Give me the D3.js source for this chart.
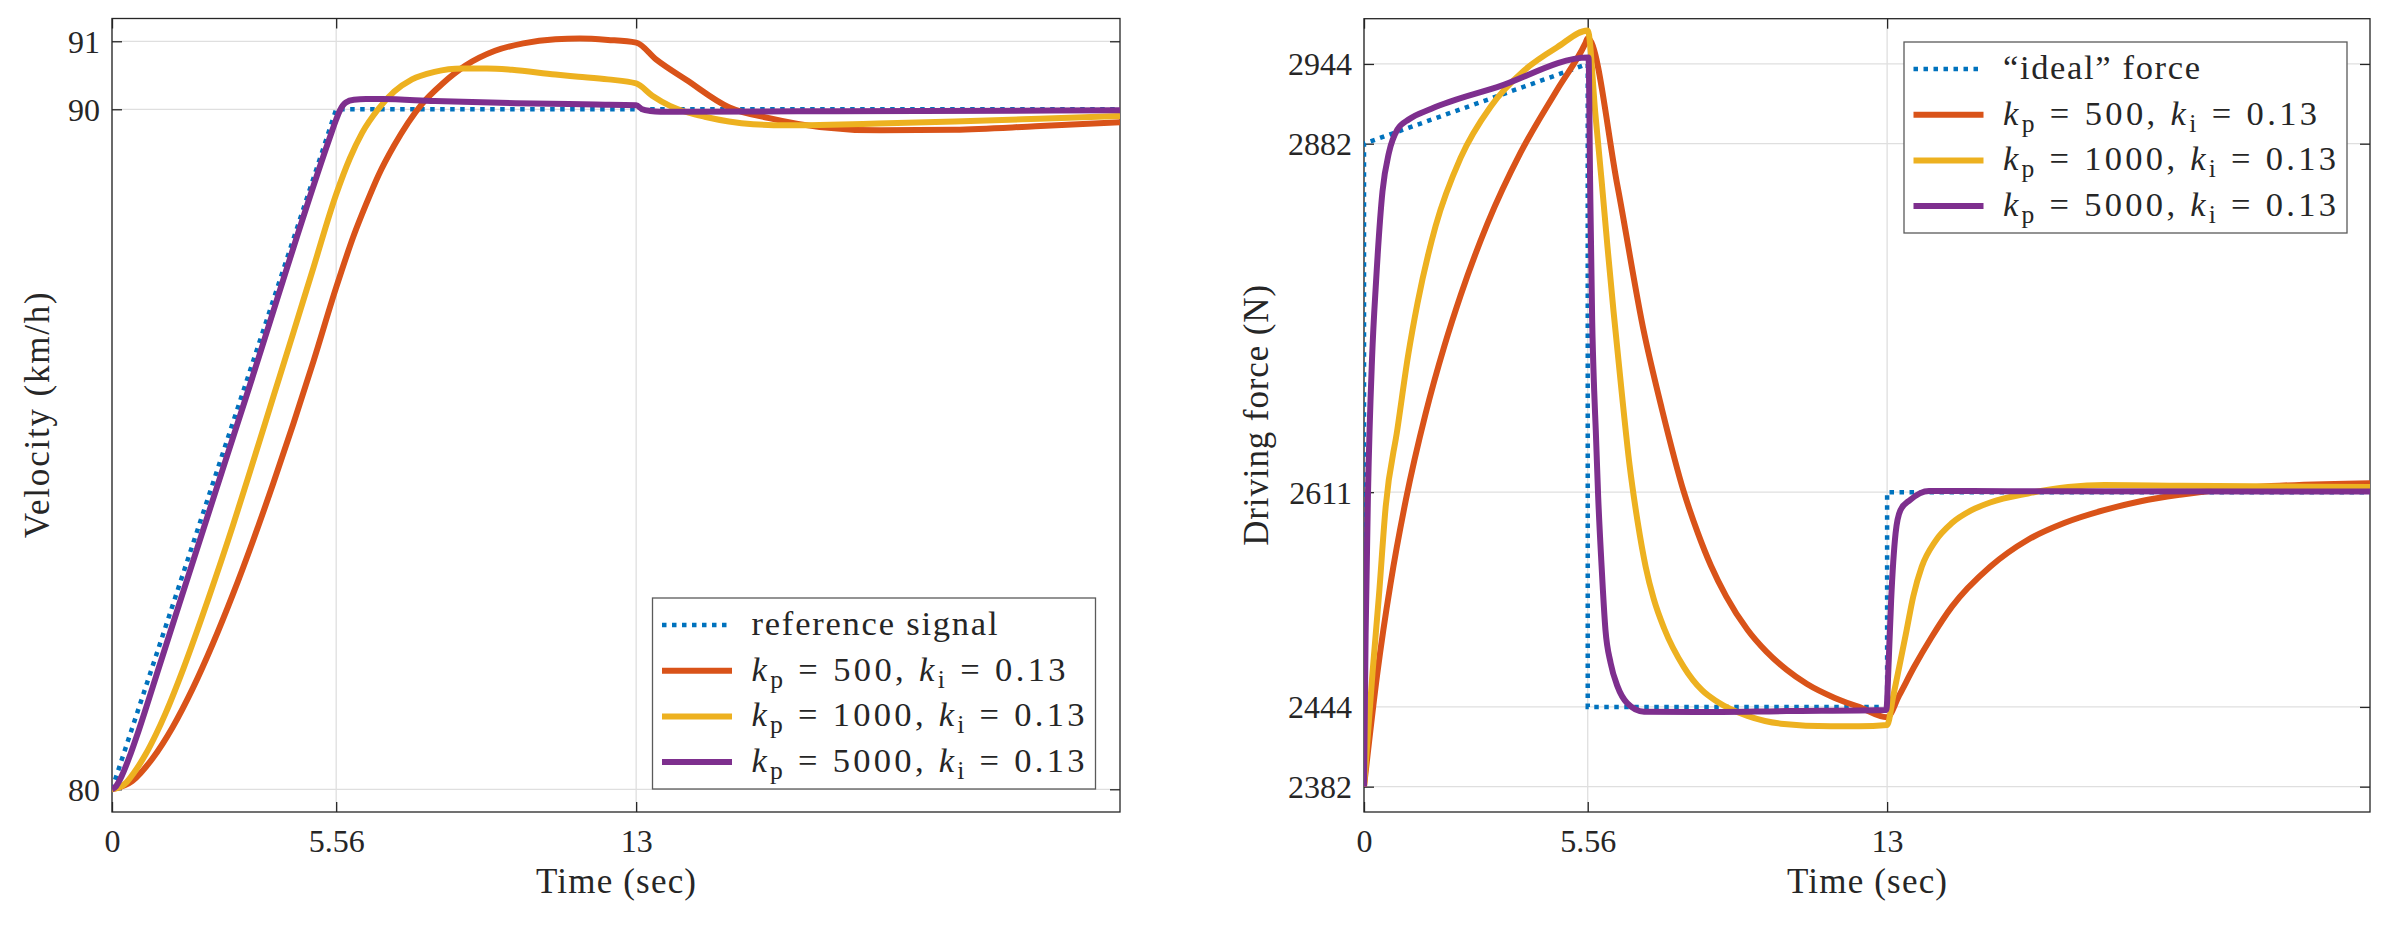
<!DOCTYPE html>
<html><head><meta charset="utf-8">
<script src="https://cdn.jsdelivr.net/npm/d3@7"></script>
<style>
html,body{margin:0;padding:0;background:#fff;}
svg{display:block;font-family:"Liberation Serif","DejaVu Serif",serif;}
svg text{font-family:"Liberation Serif","DejaVu Serif",serif !important;fill:#262626;}
</style>
</head><body>
<svg id="c" width="2396" height="928"></svg>
<script>
// ---------- tick values & labels ----------
const timeTicks = [0, 5.56, 13];
const velTicks = [80, 90, 91];
const forceTicks = [2382, 2444, 2611, 2882, 2944];
const timeLimits = [0, 25];
const velLimits = [79.666, 91.335];
const forceLimits = [2362.3, 2979.2];

// ---------- legend / series meta ----------
const kpValues = [500, 1000, 5000];
const kiValue = 0.13;
const velRefName = "reference signal";
const forceRefName = "\u201Cideal\u201D force";
const xLabel = "Time (sec)";
const velLabel = "Velocity (km/h)";
const forceLabel = "Driving force (N)";

// ---------- velocity (km/h) ----------
const velRefT = [0, 5.56, 25];
const velRefV = [80, 90, 90];

const vel500T = [0, 0.5, 1, 1.5, 2, 2.5, 3, 3.5, 4, 4.5, 5, 5.56, 6.0, 6.3, 6.61, 7.0, 7.69, 8.2, 8.76, 9.5, 10.2, 11.0, 11.6, 12.3, 13.0, 13.5, 14.25, 15.3, 16.3, 17.55, 19.05, 20.9, 22.9, 25];
const vel500V = [80, 80.12, 80.45, 80.91, 81.48, 82.14, 82.87, 83.66, 84.5, 85.38, 86.3, 87.38, 88.15, 88.6, 89.03, 89.47, 90.08, 90.38, 90.64, 90.86, 90.97, 91.03, 91.04, 91.02, 90.98, 90.73, 90.43, 90.03, 89.87, 89.74, 89.69, 89.70, 89.75, 89.81];

const vel1000T = [0, 0.21, 0.37, 0.54, 0.83, 1.1, 1.33, 1.78, 2.4, 3.0, 3.5, 4.0, 4.5, 5.0, 5.56, 5.9, 6.2, 6.6, 7.0, 7.44, 8.0, 8.68, 9.3, 9.92, 11.0, 11.57, 12.3, 13.0, 13.4, 13.84, 14.3, 14.7, 15.3, 15.9, 16.7, 17.55, 19, 20.9, 23, 25];
const vel1000V = [80, 80.035, 80.11, 80.24, 80.51, 80.82, 81.12, 81.79, 82.82, 83.88, 84.82, 85.77, 86.72, 87.68, 88.75, 89.28, 89.65, 90.0, 90.26, 90.44, 90.55, 90.6, 90.6, 90.58, 90.51, 90.48, 90.44, 90.38, 90.2, 90.05, 89.95, 89.89, 89.82, 89.78, 89.765, 89.77, 89.79, 89.82, 89.86, 89.9];

const vel5000T = [0, 0.1, 0.2, 0.46, 0.62, 0.83, 1.12, 1.66, 3.31, 5.4, 5.56, 5.65, 5.8, 6.0, 6.3, 6.7, 8, 10, 12, 13, 13.15, 13.35, 13.6, 14, 17, 20, 25];
const vel5000V = [80, 80.045, 80.145, 80.52, 80.79, 81.17, 81.71, 82.71, 85.74, 89.58, 89.85, 89.98, 90.1, 90.14, 90.15, 90.15, 90.12, 90.09, 90.07, 90.06, 90.0, 89.975, 89.965, 89.965, 89.97, 89.975, 89.985];

// ---------- driving force (N) ----------
const forceRefT = [0, 0, 5.56, 5.56, 13, 13, 25];
const forceRefF = [2382, 2882, 2944, 2444, 2444, 2611, 2611];

const force500T = [0, 0.33, 0.66, 1.04, 1.53, 2.0, 2.4, 3.07, 3.89, 4.8, 5.5, 5.56, 6.3, 6.96, 7.4, 7.95, 8.3, 8.62, 9.0, 9.53, 10.0, 10.5, 11.0, 11.7, 12.3, 13.0, 13.3, 13.67, 14.1, 14.61, 15.56, 16.5, 17.4, 18.39, 19.3, 20.28, 22.17, 25];
const force500F = [2382, 2470, 2540, 2605, 2672, 2725, 2764, 2820, 2875, 2924, 2960, 2964, 2849, 2735, 2676, 2611, 2579, 2554, 2530, 2504, 2487, 2473, 2462, 2451, 2444, 2436, 2453, 2475, 2498, 2522, 2553, 2574, 2587, 2597, 2604, 2609, 2615, 2618];

const force1000T = [0, 0.21, 0.37, 0.54, 0.83, 1.1, 1.33, 1.78, 2.4, 3.15, 3.98, 4.8, 5.56, 5.75, 5.9, 6.05, 6.2, 6.4, 6.6, 6.8, 7.0, 7.2, 7.46, 7.95, 8.4, 8.78, 9.53, 10.36, 11.6, 12.3, 13.0, 13.15, 13.3, 13.48, 13.65, 13.86, 14.2, 14.61, 15.1, 15.56, 16.5, 17.5, 18.4, 20.3, 25];
const force1000F = [2382, 2470, 2530, 2600, 2660, 2718, 2758, 2818, 2871, 2911, 2939, 2957, 2970, 2905, 2855, 2802, 2752, 2690, 2632, 2588, 2553, 2528, 2505, 2475, 2457, 2448, 2437, 2431, 2429, 2429, 2430, 2452, 2475, 2503, 2530, 2553, 2573, 2587, 2597, 2603, 2610, 2615, 2616.6, 2616, 2615];

const force5000T = [0, 0.04, 0.1, 0.2, 0.3, 0.46, 0.62, 0.83, 1.12, 1.66, 3.31, 5.58, 5.62, 5.67, 5.72, 5.76, 5.82, 5.9, 6.0, 6.13, 6.3, 6.54, 6.96, 8.28, 10.5, 12.98, 13.04, 13.1, 13.21, 13.33, 13.57, 14.04, 16, 25];
const force5000F = [2382, 2500, 2611, 2715, 2775, 2845, 2875, 2893, 2901, 2909, 2926, 2949, 2850, 2745, 2690, 2659, 2607, 2556, 2504, 2478, 2460, 2447, 2440.3, 2440, 2440.8, 2441.6, 2480, 2527, 2579, 2597, 2605, 2612, 2611.8, 2611.5];

// ---------- styling ----------
const COL = {ref: "#0072BD", k500: "#D95319", k1000: "#EDB120", k5000: "#7E2F8E"};
const AXC = "#262626";
const GRID = "#dfdfdf";
const FONT = '"Liberation Serif","DejaVu Serif",serif';
const TICK_FS = 32, LABEL_FS = 35, LEG_FS = 34.5;

const svg = d3.select("#c");

function fmtTick(d) {
  return d === 5.56 ? "5.56" : String(d);
}

function panel(o) {
  const x = d3.scaleLinear().domain(timeLimits).range([o.x0, o.x1]);
  const y = d3.scaleLinear().domain(o.yDomain).range([o.y1, o.y0]);
  const g = svg.append("g");

  // grid
  g.append("g").selectAll("line").data(timeTicks).join("line")
    .attr("x1", d => x(d)).attr("x2", d => x(d))
    .attr("y1", o.y0).attr("y2", o.y1)
    .attr("stroke", GRID).attr("stroke-width", 1.3);
  g.append("g").selectAll("line").data(o.yTicks).join("line")
    .attr("x1", o.x0).attr("x2", o.x1)
    .attr("y1", d => y(d)).attr("y2", d => y(d))
    .attr("stroke", GRID).attr("stroke-width", 1.3);

  // axes (inward ticks, all four sides)
  const styleAxis = sel => {
    sel.attr("color", AXC).attr("font-family", FONT).attr("font-size", null);
    sel.select(".domain").remove();
    sel.selectAll(".tick line").attr("stroke-width", 1.3);
  };
  const bottom = g.append("g").attr("transform", `translate(0,${o.y1})`)
    .call(d3.axisBottom(x).tickValues(timeTicks).tickFormat(fmtTick).tickSizeInner(-10).tickSizeOuter(0).tickPadding(0));
  styleAxis(bottom);
  bottom.selectAll(".tick text").attr("y", 39.5).attr("dy", null)
    .style("font-size", TICK_FS + "px").style("font-family", FONT).attr("fill", AXC);

  const top = g.append("g").attr("transform", `translate(0,${o.y0})`)
    .call(d3.axisTop(x).tickValues(timeTicks).tickFormat("").tickSizeInner(-10).tickSizeOuter(0));
  styleAxis(top);

  const left = g.append("g").attr("transform", `translate(${o.x0},0)`)
    .call(d3.axisLeft(y).tickValues(o.yTicks).tickFormat(d => String(d)).tickSizeInner(-10).tickSizeOuter(0).tickPadding(12));
  styleAxis(left);
  left.selectAll(".tick text").attr("dy", "0.34em")
    .style("font-size", TICK_FS + "px").style("font-family", FONT).attr("fill", AXC);

  const right = g.append("g").attr("transform", `translate(${o.x1},0)`)
    .call(d3.axisRight(y).tickValues(o.yTicks).tickFormat("").tickSizeInner(-10).tickSizeOuter(0));
  styleAxis(right);

  // box
  g.append("rect").attr("x", o.x0).attr("y", o.y0)
    .attr("width", o.x1 - o.x0).attr("height", o.y1 - o.y0)
    .attr("fill", "none").attr("stroke", AXC).attr("stroke-width", 1.3);

  // clip
  const cid = "clip-" + o.id;
  svg.append("clipPath").attr("id", cid).append("rect")
    .attr("x", o.x0).attr("y", o.y0).attr("width", o.x1 - o.x0).attr("height", o.y1 - o.y0);
  const plot = g.append("g").attr("clip-path", `url(#${cid})`);

  const lineLin = d3.line().x(d => x(d[0])).y(d => y(d[1]));
  const lineSm = d3.line().x(d => x(d[0])).y(d => y(d[1])).curve(d3.curveMonotoneX);

  plot.append("path").datum(d3.zip(o.ref[0], o.ref[1])).attr("d", lineLin)
    .attr("fill", "none").attr("stroke", COL.ref).attr("stroke-width", 4.5)
    .attr("stroke-dasharray", "4.5,5.5");
  o.series.forEach(s => {
    plot.append("path").datum(d3.zip(s.t, s.v)).attr("d", lineSm)
      .attr("fill", "none").attr("stroke", s.c).attr("stroke-width", 6)
      .attr("stroke-linejoin", "round");
  });

  // axis labels
  g.append("text").attr("x", (o.x0 + o.x1) / 2).attr("y", 893)
    .attr("text-anchor", "middle").style("font-size", LABEL_FS + "px").style("font-family", FONT)
    .attr("textLength", 160).attr("lengthAdjust", "spacing").text(xLabel);
  g.append("text").attr("transform", `translate(${o.ylabX},${(o.y0 + o.y1) / 2}) rotate(-90)`)
    .attr("text-anchor", "middle").style("font-size", LABEL_FS + "px").style("font-family", FONT)
    .attr("textLength", o.ylabLen).attr("lengthAdjust", "spacing").text(o.ylab);

  // legend
  const L = o.leg;
  const lg = g.append("g");
  lg.append("rect").attr("x", L.x).attr("y", L.y).attr("width", 443).attr("height", 191)
    .attr("fill", "#fff").attr("stroke", "#5a5a5a").attr("stroke-width", 1.3);
  const rows = [{name: o.refName, c: COL.ref, dot: true, len: o.refLen}]
    .concat(o.series.map((s, i) => ({kp: kpValues[i], c: s.c, len: i === 0 ? 314 : 333})));
  rows.forEach((r, i) => {
    const cy = L.y + 27 + 45.7 * i;
    const ln = lg.append("line").attr("x1", L.x + 9.5).attr("x2", L.x + 79.5)
      .attr("y1", cy).attr("y2", cy).attr("stroke", r.c);
    if (r.dot) ln.attr("stroke-width", 4.5).attr("stroke-dasharray", "4.5,5.5");
    else ln.attr("stroke-width", 6);
    const t = lg.append("text").attr("x", L.x + 99).attr("y", cy + 10)
      .style("font-size", LEG_FS + "px").style("font-family", FONT)
      .attr("textLength", r.len).attr("lengthAdjust", "spacing");
    if (r.dot) { t.text(r.name); }
    else {
      t.append("tspan").style("font-style", "italic").text("k");
      t.append("tspan").style("font-size", "74%").attr("dy", 7).text("p");
      t.append("tspan").attr("dy", -7).text(" = " + r.kp + ", ");
      t.append("tspan").style("font-style", "italic").text("k");
      t.append("tspan").style("font-size", "74%").attr("dy", 7).text("i");
      t.append("tspan").attr("dy", -7).text(" = " + kiValue);
    }
  });
}

panel({
  id: "vel", x0: 112, x1: 1120, y0: 18.5, y1: 812,
  yDomain: velLimits, yTicks: velTicks,
  ref: [velRefT, velRefV],
  series: [
    {t: vel500T, v: vel500V, c: COL.k500},
    {t: vel1000T, v: vel1000V, c: COL.k1000},
    {t: vel5000T, v: vel5000V, c: COL.k5000}
  ],
  refName: velRefName, refLen: 246,
  ylab: velLabel, ylabX: 48.5, ylabLen: 246,
  leg: {x: 652.5, y: 598}
});

panel({
  id: "force", x0: 1364, x1: 2370, y0: 18.7, y1: 812,
  yDomain: forceLimits, yTicks: forceTicks,
  ref: [forceRefT, forceRefF],
  series: [
    {t: force500T, v: force500F, c: COL.k500},
    {t: force1000T, v: force1000F, c: COL.k1000},
    {t: force5000T, v: force5000F, c: COL.k5000}
  ],
  refName: forceRefName, refLen: 197,
  ylab: forceLabel, ylabX: 1268, ylabLen: 261,
  leg: {x: 1904, y: 42}
});
</script>
</body></html>
